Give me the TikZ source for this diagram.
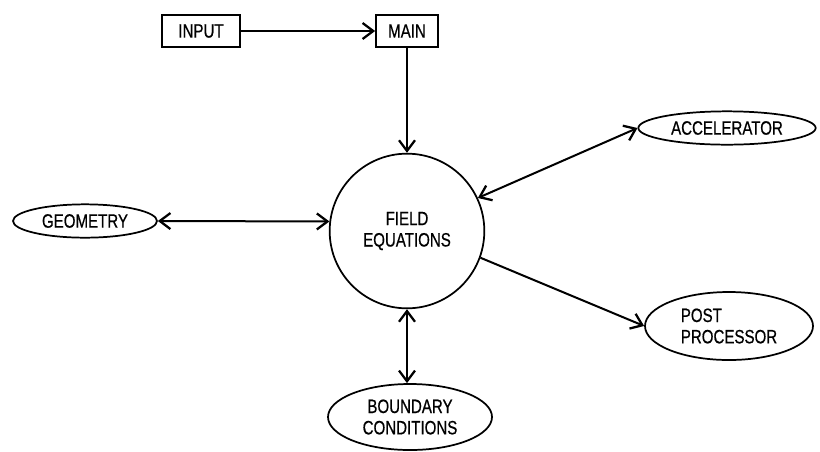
\documentclass[tikz,border=0pt]{standalone}
\usepackage{fontspec}
\setmainfont{Liberation Sans}
\newfontfamily\lab[FakeStretch=0.78,FakeBold=0.6]{Liberation Sans}
\usetikzlibrary{shapes.geometric,arrows.meta}
\begin{document}
\begin{tikzpicture}[x=0.75pt,y=-0.75pt,
  every node/.style={font=\lab\fontsize{14.5}{16}\selectfont, line width=1.3pt, inner sep=0pt, align=center},
  box/.style={draw, rectangle, minimum height=24pt},
  oval/.style={draw, ellipse},
  conn/.style={line width=1.5pt, arrows={-Straight Barb[length=8pt,width=12pt,line width=1.7pt]}},
  conn2/.style={line width=1.5pt, arrows={Straight Barb[length=8pt,width=12pt,line width=1.7pt]-Straight Barb[length=8pt,width=12pt,line width=1.7pt]}}
]
\useasboundingbox (0,0) rectangle (820,451);
\node[box, minimum width=58.5pt] (input) at (201,31) {INPUT};
\node[box, minimum width=46.5pt] (main) at (407,31) {MAIN};
\node[draw, circle, minimum size=116pt] (fe) at (407,231) {FIELD\\EQUATIONS};
\node[oval, minimum width=108pt, minimum height=25pt] (geo) at (85,221) {GEOMETRY};
\node[oval, minimum width=133pt, minimum height=25pt] (acc) at (727,128) {ACCELERATOR};
\node[oval, minimum width=126pt, minimum height=51pt, align=left] (post) at (729,326) {POST\\PROCESSOR};
\node[oval, minimum width=123pt, minimum height=49.5pt] (bc) at (410,417) {BOUNDARY\\CONDITIONS};

\draw[conn] (input.east) -- (main.west);
\draw[conn] (main.south) -- (fe.north);
\draw[conn2] (geo.east) -- (fe.173);
\draw[conn2] (fe.25) -- (acc.west);
\draw[conn] (fe.-20) -- (post.west);
\draw[conn2] (fe.south) -- (fe.south |- bc.north);
\end{tikzpicture}
\end{document}
